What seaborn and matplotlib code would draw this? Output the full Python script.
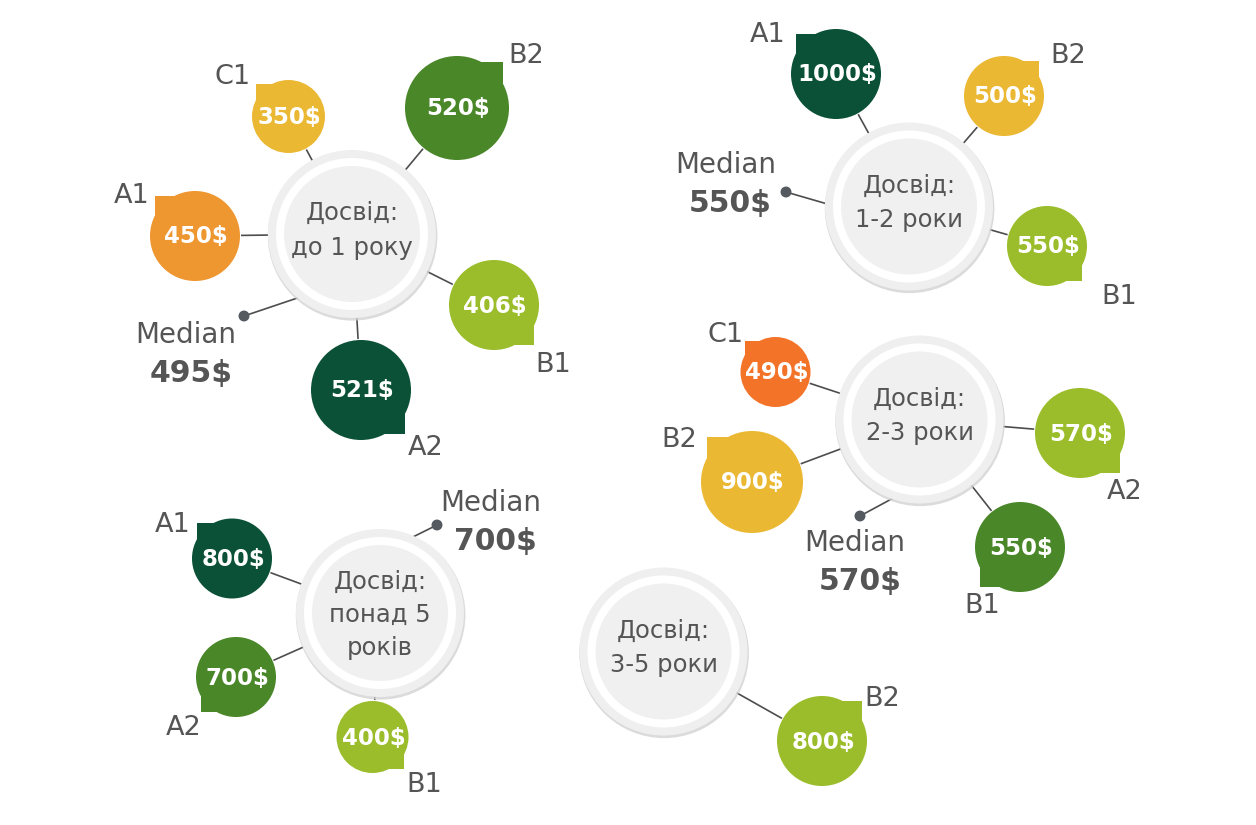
import numpy as np
import pandas as pd
import matplotlib
matplotlib.use("Agg")
import matplotlib.pyplot as plt
from matplotlib.patches import Circle, Rectangle
import seaborn as sns

# ---------------- data ----------------
hub_titles = ["Досвід:\nдо 1 року", "Досвід:\n1-2 роки", "Досвід:\n2-3 роки",
              "Досвід:\n3-5 роки", "Досвід:\nпонад 5\nроків"]
medians = [495, 550, 570, None, 700]

bubble_cluster = [0, 0, 0, 0, 0, 1, 1, 1, 2, 2, 2, 2, 3, 4, 4, 4]
bubble_level = ["C1", "B2", "A1", "B1", "A2",
                "A1", "B2", "B1",
                "C1", "B2", "A2", "B1",
                "B2",
                "A1", "A2", "B1"]
bubble_value = [350, 520, 450, 406, 521,
                1000, 500, 550,
                490, 900, 570, 550,
                800,
                800, 700, 400]

# ---------------- layout (pixel space) ----------------
hub_x = [352, 909, 919.5, 663.5, 380]
hub_y = [234, 206.5, 419.5, 651.5, 613]
bubble_x = [288.5, 457, 195, 494, 361, 836, 1004, 1047, 775.5, 752, 1080, 1020, 822, 232, 236, 372.5]
bubble_y = [116.5, 108, 236, 305, 390, 74, 96, 246, 372, 482, 433, 547, 741, 558.5, 677, 737]
bubble_r = [36.5, 52, 45, 45, 50, 45, 40, 40, 35, 51, 45, 45, 45, 40, 40, 36]
bubble_corner = ["tl", "tr", "tl", "br", "br", "tl", "tr", "br", "tl", "tl", "br", "bl", "tr", "tl", "bl", "br"]
bubble_color = ["#EBB833", "#4A8729", "#EE962F", "#9BBD2B", "#0B5137",
                "#0B5137", "#EBB833", "#9BBD2B",
                "#F37329", "#EBB833", "#9BBD2B", "#4A8729",
                "#9BBD2B",
                "#0B5137", "#4A8729", "#9BBD2B"]
label_x = [233, 526, 132, 553, 426, 768, 1068, 1119, 725.5, 679, 1125, 982.5, 882, 173, 183.5, 424]
label_y = [84, 63, 203, 372, 455, 42, 63, 304, 342, 447, 499, 613, 706, 532, 735, 792]

median_dot_x = [244, 786, 860, None, 437]
median_dot_y = [316, 192, 516, None, 525]
median_attach_deg = [130, 182, 108.6, None, -66.5]
median_text_x = [186, 725.5, 855, None, 490.5]
median_text_y = [343, 173, 551, None, 511]

HUB_R = 84
TEXT = "#555555"
LINE = "#4d4d4d"

sns.set_theme(style="white")
plt.rcParams["font.family"] = ["DejaVu Sans"]

fig = plt.figure(figsize=(12.56, 8.25), dpi=100)
ax = fig.add_axes([0, 0, 1, 1])

bubbles = pd.DataFrame({
    "cluster": bubble_cluster, "level": bubble_level, "value": bubble_value,
    "x": bubble_x, "y": bubble_y, "r": bubble_r, "corner": bubble_corner,
    "color": bubble_color, "lx": label_x, "ly": label_y,
})

# median dots (seaborn scatter)
med_df = pd.DataFrame({"x": [v for v in median_dot_x if v is not None],
                       "y": [v for v in median_dot_y if v is not None]})
sns.scatterplot(data=med_df, x="x", y="y", ax=ax, s=62, color="#555a61",
                edgecolor="none", zorder=3, legend=False)
ax.set_xlim(0, 1256)
ax.set_ylim(825, 0)
ax.axis("off")

# connectors
for _, b in bubbles.iterrows():
    hx, hy = hub_x[b.cluster], hub_y[b.cluster]
    d = np.array([b.x - hx, b.y - hy])
    u = d / np.hypot(*d)
    p0 = np.array([hx, hy]) + u * (HUB_R - 1)
    p1 = np.array([b.x, b.y]) - u * (b.r + 1)
    ax.plot([p0[0], p1[0]], [p0[1], p1[1]], color=LINE, lw=1.2, zorder=1,
            solid_capstyle="butt")

# median connectors + labels
for i, m in enumerate(medians):
    if m is None:
        continue
    a = np.deg2rad(median_attach_deg[i])
    ax_, ay_ = hub_x[i] + (HUB_R - 1) * np.cos(a), hub_y[i] + (HUB_R - 1) * np.sin(a)
    ax.plot([median_dot_x[i], ax_], [median_dot_y[i], ay_], color=LINE, lw=1.2, zorder=1)
    ax.text(median_text_x[i], median_text_y[i], "Median", ha="center", va="baseline",
            fontsize=20, color=TEXT, zorder=5)
    ax.text(median_text_x[i] + 5, median_text_y[i] + 39, f"{m}$", ha="center", va="baseline",
            fontsize=21.5, fontweight="bold", color=TEXT, zorder=5)

# hubs
for i, title in enumerate(hub_titles):
    cx, cy = hub_x[i], hub_y[i]
    ax.add_patch(Circle((cx + 0.6, cy + 1.8), HUB_R + 0.8, color="#d2d2d2", alpha=0.8, lw=0, zorder=2))
    ax.add_patch(Circle((cx, cy), HUB_R, color="#efefef", lw=0, zorder=2.1))
    ax.add_patch(Circle((cx, cy), HUB_R - 8, color="#ffffff", lw=0, zorder=2.2))
    ax.add_patch(Circle((cx, cy), HUB_R - 16, color="#f0f0f0", lw=0, zorder=2.3))
    lines = title.split("\n")
    n = len(lines)
    base0 = cy - 14 - (n - 2) * 10
    step = 34.5 if n == 2 else 33
    for j, ln in enumerate(lines):
        ax.text(cx, base0 + j * step, ln, ha="center", va="baseline",
                fontsize=17.5, color=TEXT, zorder=5)

# bubbles
K = 0.88
for _, b in bubbles.iterrows():
    sx = -1 if "l" in b.corner else 1
    sy = -1 if "t" in b.corner else 1
    ax.add_patch(Circle((b.x, b.y), b.r, color=b.color, lw=0, zorder=3))
    w = K * b.r
    ax.add_patch(Rectangle((b.x, b.y), sx * w, sy * w, color=b.color, lw=0, zorder=3))
    ax.text(b.x + 1, b.y + 1, f"{b.value}$", ha="center", va="center",
            fontsize=16.5, fontweight="bold", color="white", zorder=6)
    ax.text(b.lx, b.ly, b.level, ha="center", va="baseline",
            fontsize=19.5, color=TEXT, zorder=5)

fig.savefig("out.png", dpi=100, facecolor="white")
